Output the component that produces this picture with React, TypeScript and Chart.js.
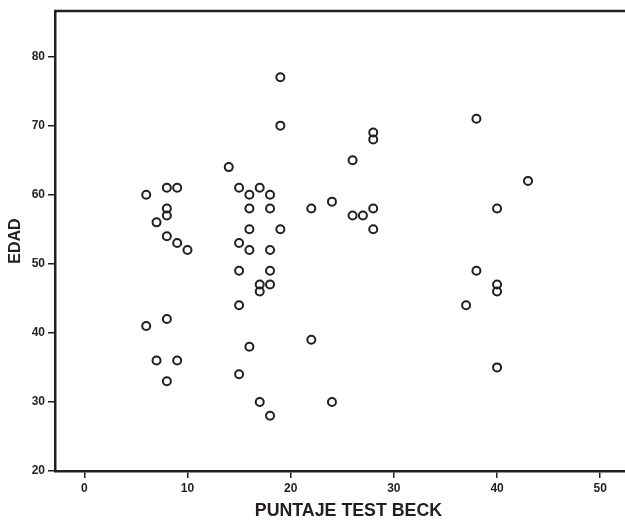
import React, { useEffect, useRef } from "react";
import { Chart, registerables } from "chart.js";

Chart.register(...registerables);

const beckScores = [
  6, 6, 7, 7, 8, 9, 8, 8, 8, 9, 10, 8, 9, 8,
  14, 15, 16, 17, 18, 16, 18, 16, 19, 15, 16, 18, 15, 18, 17, 18, 17, 15, 16, 15, 17, 18,
  19, 19, 22, 22, 24, 24, 26, 26, 27, 28, 28, 28, 28,
  38, 43, 40, 38, 40, 40, 37, 40,
];
const ages = [
  60, 41, 36, 56, 61, 61, 58, 57, 54, 53, 52, 42, 36, 33,
  64, 61, 60, 61, 60, 58, 58, 55, 55, 53, 52, 52, 49, 49, 47, 47, 46, 44, 38, 34, 30, 28,
  77, 70, 58, 39, 59, 30, 65, 57, 57, 69, 68, 58, 55,
  71, 62, 58, 49, 47, 46, 44, 35,
];
const xTicks = [0, 10, 20, 30, 40, 50];
const yTicks = [20, 30, 40, 50, 60, 70, 80];
const xTitle = "PUNTAJE TEST BECK";
const yTitle = "EDAD";

const INK = "#231f20";
const TICK_FONT = { family: "'Liberation Sans Narrow', 'Liberation Sans', Arial, sans-serif", size: 12, weight: "bold" as const };

const frameAndTitle = {
  id: "frameAndTitle",
  afterDraw(chart: any) {
    const { ctx, chartArea } = chart;
    ctx.save();
    ctx.strokeStyle = INK;
    ctx.lineWidth = 2.5;
    ctx.beginPath();
    ctx.moveTo(chartArea.left - 1, chartArea.top);
    ctx.lineTo(chart.width, chartArea.top);
    ctx.stroke();
    // x-axis title: the original plot continues past the cropped right edge,
    // so its title is centred a little to the right of the visible area's middle.
    const xs = chart.scales.x;
    const cx = xs.getPixelForValue(25.6);
    ctx.fillStyle = INK;
    ctx.font = "bold 17.8px 'Liberation Sans', Arial, sans-serif";
    ctx.textAlign = "center";
    ctx.textBaseline = "middle";
    ctx.fillText(xTitle, cx, 511);
    ctx.restore();
  },
};

export default function App() {
  const ref = useRef<HTMLCanvasElement | null>(null);
  useEffect(() => {
    if (!ref.current) return;
    const data = beckScores.map((x, i) => ({ x, y: ages[i] }));
    const chart = new Chart(ref.current, {
      type: "scatter",
      data: {
        datasets: [
          {
            data,
            pointStyle: "circle",
            pointRadius: 4,
            pointBorderWidth: 2,
            pointBorderColor: INK,
            pointBackgroundColor: "rgba(255,255,255,0)",
            pointHoverRadius: 4,
          },
        ],
      },
      options: {
        animation: false,
        responsive: false,
        maintainAspectRatio: false,
        layout: { autoPadding: false, padding: { top: 11, right: 0, left: 0, bottom: 0 } },
        plugins: { legend: { display: false }, tooltip: { enabled: false } },
        scales: {
          x: {
            type: "linear",
            min: -2.84,
            max: 52.4,
            afterFit: (s: any) => { s.height = 49; s.paddingRight = 0; s.paddingLeft = 0; },
            afterBuildTicks: (s: any) => { s.ticks = xTicks.map((v) => ({ value: v })); },
            ticks: { color: INK, font: TICK_FONT, padding: 3, includeBounds: false },
            grid: { display: true, drawOnChartArea: false, drawTicks: true, tickLength: 7, color: INK, lineWidth: 1.5 },
            border: { display: true, color: INK, width: 2.5 },
            title: { display: false, text: xTitle },
          },
          y: {
            type: "linear",
            min: 20,
            max: 86.6,
            afterFit: (s: any) => { s.width = 55; s.paddingTop = 0; s.paddingBottom = 0; },
            afterBuildTicks: (s: any) => { s.ticks = yTicks.map((v) => ({ value: v })); },
            ticks: { color: INK, font: TICK_FONT, padding: 3, includeBounds: false },
            grid: { display: true, drawOnChartArea: false, drawTicks: true, tickLength: 7, color: INK, lineWidth: 1.5 },
            border: { display: true, color: INK, width: 2.5 },
            title: {
              display: true,
              text: yTitle,
              color: INK,
              font: { family: "'Liberation Sans', Arial, sans-serif", size: 16, weight: "bold" },
              padding: { top: 6, bottom: 0 },
            },
          },
        },
      },
      plugins: [frameAndTitle],
    });
    return () => chart.destroy();
  }, []);
  return (
    <div style={{ position: "absolute", left: 0, top: 0, width: 625, height: 520, background: "#fff" }}>
      <canvas ref={ref} width={625} height={520} style={{ display: "block" }} />
    </div>
  );
}
